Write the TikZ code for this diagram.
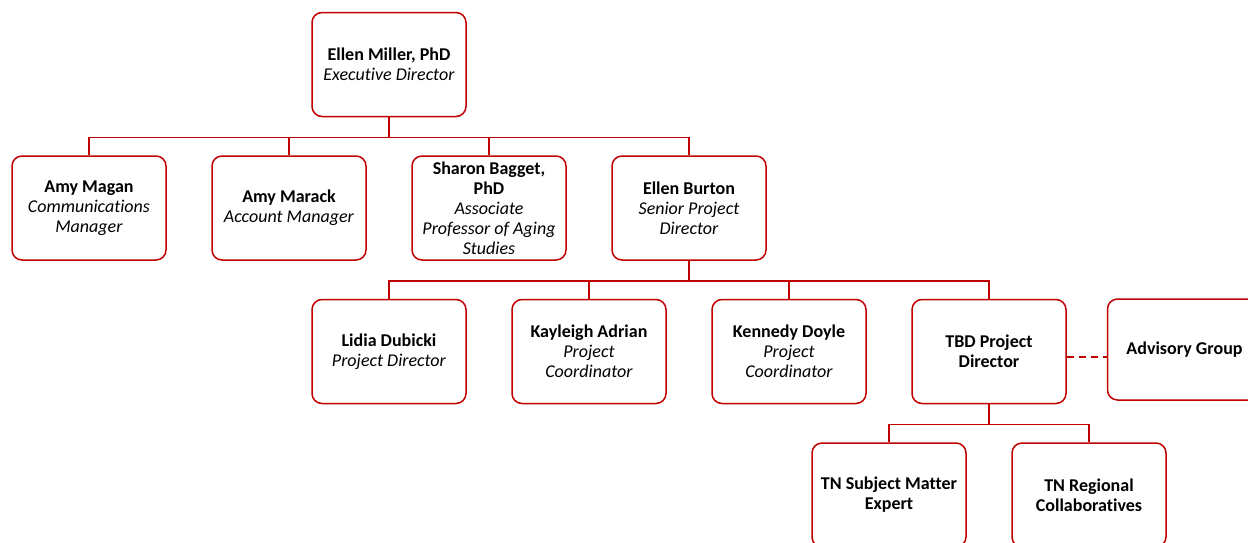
\documentclass[tikz,border=0pt]{standalone}
\usepackage{fontspec}
\setmainfont{Carlito}[Ligatures=NoCommon]
\usetikzlibrary{trees, positioning}
\definecolor{orgred}{RGB}{192,0,0}

\tikzset{
  box/.style={draw=orgred, line width=1.5pt, rounded corners=10pt,
    minimum width=154pt, minimum height=104pt, inner sep=2pt,
    align=center, font=\fontsize{18}{20}\selectfont},
  allbold/.style={font=\fontsize{18}{20}\selectfont\bfseries},
}
% name in bold, title in italics
\newcommand{\nm}[1]{\textbf{#1}}
\newcommand{\jt}[1]{\textit{#1}}

\begin{document}
\begin{tikzpicture}[x=1pt, y=1pt,
  every node/.style={box},
  level/.style={sibling distance=200pt, level distance=143.5pt},
  edge from parent/.style={draw=orgred, line width=1.5pt},
  edge from parent path={(\tikzparentnode.south) -- ++(0,-20) -| (\tikzchildnode.north)}]
  \useasboundingbox (0,0) rectangle (1248,-542);
  \node (miller) at (389,-64.5) {\nm{Ellen Miller, PhD}\\\jt{Executive Director}}
    child { node (magan) {\nm{Amy Magan}\\\jt{Communications}\\\jt{Manager}} }
    child { node (marack) {\nm{Amy Marack}\\\jt{Account Manager}} }
    child { node (bagget) {\nm{Sharon Bagget,}\\\nm{PhD}\\\jt{Associate}\\\jt{Professor of Aging}\\\jt{Studies}} }
    child { node (burton) {\nm{Ellen Burton}\\\jt{Senior Project}\\\jt{Director}}
      child { node (dubicki) {\nm{Lidia Dubicki}\\\jt{Project Director}} }
      child { node (adrian) {\nm{Kayleigh Adrian}\\\jt{Project}\\\jt{Coordinator}} }
      child { node (doyle) {\nm{Kennedy Doyle}\\\jt{Project}\\\jt{Coordinator}} }
      child { node[allbold] (tbd) {TBD Project\\Director}
        child { node[allbold] (expert) {TN Subject Matter\\Expert} }
        child { node[allbold] (regional) {TN Regional\\Collaboratives} } } };
  % advisory group off to the side
  \node[allbold] (advisory) [right=40pt of tbd, yshift=2pt, minimum height=101pt] {Advisory Group};
  \draw[orgred, line width=1.5pt, dash pattern=on 7pt off 5pt]
    ([yshift=-5.5pt]tbd.east) -- ([yshift=-5.5pt]tbd.east -| advisory.west);
\end{tikzpicture}
\end{document}
